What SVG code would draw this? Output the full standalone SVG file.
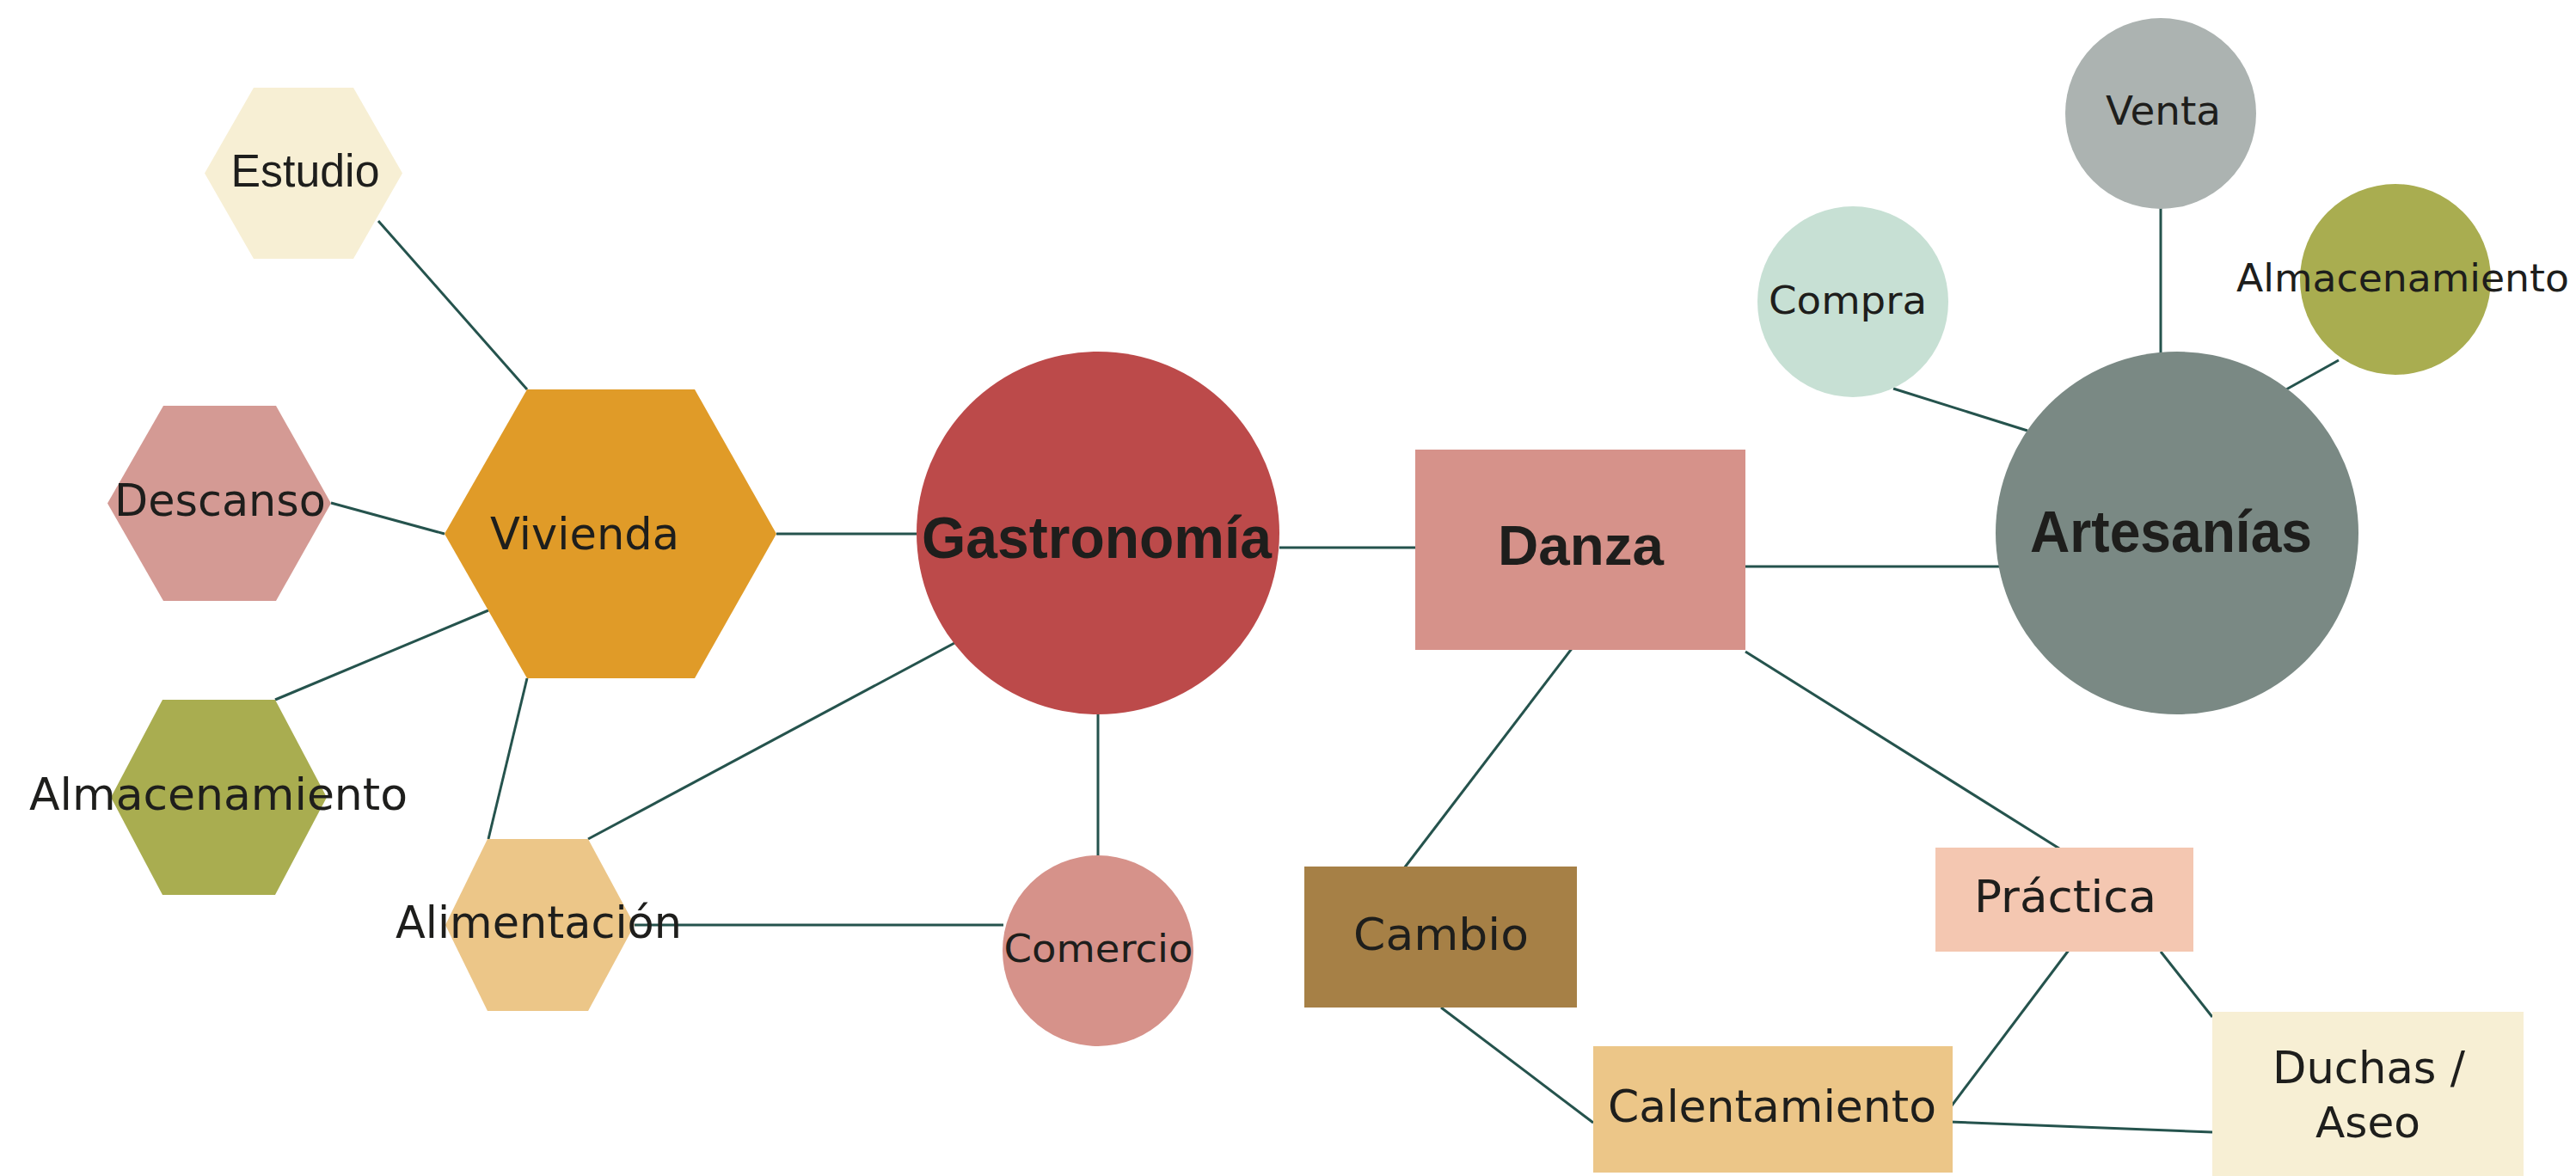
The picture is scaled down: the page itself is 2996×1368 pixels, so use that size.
<svg xmlns="http://www.w3.org/2000/svg" width="2996" height="1368" viewBox="0 0 2996 1368">
<style>
.c{stroke:#25534d;stroke-width:3;fill:none}
.t{font-family:"DejaVu Sans","Liberation Sans",sans-serif;fill:#1e1e1c;text-anchor:middle}
.a{font-family:"Liberation Sans",Arial,sans-serif;fill:#1e1e1c;text-anchor:middle}
.b{font-family:"Liberation Sans",Arial,sans-serif;font-weight:bold;fill:#1e1e1c;text-anchor:middle}
</style>
<rect width="2996" height="1368" fill="#ffffff"/>
<g id="connectors">
<line class="c" x1="440" y1="257" x2="613" y2="453"/>
<line class="c" x1="385" y1="585" x2="517" y2="621"/>
<line class="c" x1="320" y1="814" x2="568" y2="710"/>
<line class="c" x1="613" y1="789" x2="568" y2="976"/>
<line class="c" x1="903" y1="621" x2="1066" y2="621"/>
<line class="c" x1="1112" y1="747" x2="684" y2="976"/>
<line class="c" x1="1277" y1="831" x2="1277" y2="996"/>
<line class="c" x1="738" y1="1076" x2="1167" y2="1076"/>
<line class="c" x1="1488" y1="637" x2="1646" y2="637"/>
<line class="c" x1="2030" y1="659" x2="2336" y2="659"/>
<line class="c" x1="2202" y1="452" x2="2358" y2="501"/>
<line class="c" x1="2513" y1="242" x2="2513" y2="410"/>
<line class="c" x1="2720" y1="419" x2="2659" y2="453"/>
<line class="c" x1="1833" y1="748" x2="1633" y2="1010"/>
<line class="c" x1="2030" y1="758" x2="2395" y2="987"/>
<line class="c" x1="2407" y1="1104" x2="2267" y2="1290"/>
<line class="c" x1="2513" y1="1107" x2="2573" y2="1183"/>
<line class="c" x1="2267" y1="1305" x2="2573" y2="1317"/>
<line class="c" x1="1676" y1="1172" x2="1853" y2="1306"/>
</g>
<g id="estudio">
<polygon points="238,201.5 295,102 411,102 468,201.5 411,301 295,301" fill="#f7efd4"/>
<text class="a" x="355" y="217" font-size="54" textLength="173" lengthAdjust="spacingAndGlyphs">Estudio</text>
</g>
<g id="descanso">
<polygon points="125,585.5 190,472 321,472 385,585.5 321,699 190,699" fill="#d49a94"/>
<text class="t" x="256" y="599.5" font-size="51" textLength="246" lengthAdjust="spacingAndGlyphs">Descanso</text>
</g>
<g id="vivienda">
<polygon points="517,621 613,453 808,453 903,621 808,789 613,789" fill="#e09b28"/>
<text class="t" x="680" y="639" font-size="52" textLength="220" lengthAdjust="spacingAndGlyphs">Vivienda</text>
</g>
<g id="almacenamiento-1">
<polygon points="129,927.5 189,814 320,814 380,927.5 320,1041 189,1041" fill="#a9ad50"/>
<text class="t" x="254" y="942" font-size="52" textLength="440" lengthAdjust="spacingAndGlyphs">Almacenamiento</text>
</g>
<g id="alimentacion">
<polygon points="518,1076 567,976 684,976 738,1076 684,1176 567,1176" fill="#ecc688"/>
<text class="t" x="626.5" y="1091" font-size="51" textLength="333" lengthAdjust="spacingAndGlyphs">Alimentación</text>
</g>
<g id="gastronomia">
<circle cx="1277" cy="620" r="211" fill="#bc4a4a"/>
<text class="b" x="1275.5" y="649" font-size="68" textLength="407" lengthAdjust="spacingAndGlyphs">Gastronomía</text>
</g>
<g id="comercio">
<circle cx="1277" cy="1106" r="111" fill="#d6928a"/>
<text class="t" x="1277.5" y="1119" font-size="45" textLength="220" lengthAdjust="spacingAndGlyphs">Comercio</text>
</g>
<g id="danza">
<rect x="1646" y="523" width="384" height="233" fill="#d6928a"/>
<text class="b" x="1838.5" y="657" font-size="64" textLength="193" lengthAdjust="spacingAndGlyphs">Danza</text>
</g>
<g id="artesanias">
<circle cx="2532" cy="620" r="211" fill="#7a8984"/>
<text class="b" x="2525" y="642" font-size="68" textLength="328" lengthAdjust="spacingAndGlyphs">Artesanías</text>
</g>
<g id="venta">
<circle cx="2513" cy="132" r="111" fill="#acb3b1"/>
<text class="t" x="2516" y="145" font-size="46" textLength="134" lengthAdjust="spacingAndGlyphs">Venta</text>
</g>
<g id="compra">
<circle cx="2155" cy="351" r="111" fill="#c7e0d4"/>
<text class="t" x="2149" y="365" font-size="45" textLength="184" lengthAdjust="spacingAndGlyphs">Compra</text>
</g>
<g id="almacenamiento-2">
<circle cx="2786" cy="325" r="111" fill="#a9ad50"/>
<text class="t" x="2794.5" y="338.5" font-size="45" textLength="387" lengthAdjust="spacingAndGlyphs">Almacenamiento</text>
</g>
<g id="cambio">
<rect x="1517" y="1008" width="317" height="164" fill="#a68046"/>
<text class="t" x="1676" y="1105" font-size="52" textLength="204" lengthAdjust="spacingAndGlyphs">Cambio</text>
</g>
<g id="practica">
<rect x="2251" y="986" width="300" height="121" fill="#f4c7b1"/>
<text class="t" x="2402" y="1061" font-size="52" textLength="212" lengthAdjust="spacingAndGlyphs">Práctica</text>
</g>
<g id="calentamiento">
<rect x="1853" y="1217" width="418" height="147" fill="#ecc688"/>
<text class="t" x="2061" y="1305" font-size="52" textLength="382" lengthAdjust="spacingAndGlyphs">Calentamiento</text>
</g>
<g id="duchas-aseo">
<rect x="2573" y="1177" width="362" height="191" fill="#f7efd4"/>
<text class="t" x="2755" y="1260" font-size="51" textLength="224" lengthAdjust="spacingAndGlyphs">Duchas /</text>
<text class="t" x="2754" y="1322.7" font-size="50" textLength="122" lengthAdjust="spacingAndGlyphs">Aseo</text>
</g>
</svg>
